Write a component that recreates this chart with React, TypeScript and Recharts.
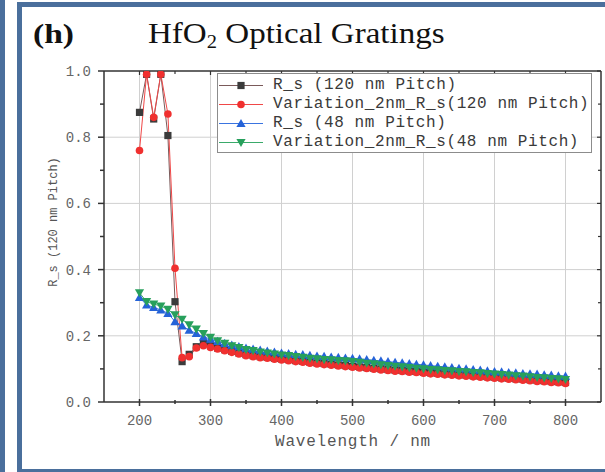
import React from 'react';
import { LineChart, Line, XAxis, YAxis, ReferenceLine, Legend } from 'recharts';

const wavelength = [200, 210, 220, 230, 240, 250, 260, 270, 280, 290, 300, 310, 320, 330, 340, 350, 360, 370, 380, 390, 400, 410, 420, 430, 440, 450, 460, 470, 480, 490, 500, 510, 520, 530, 540, 550, 560, 570, 580, 590, 600, 610, 620, 630, 640, 650, 660, 670, 680, 690, 700, 710, 720, 730, 740, 750, 760, 770, 780, 790, 800];

const rs120 = [0.875, 0.99, 0.855, 0.99, 0.805, 0.303, 0.122, 0.144, 0.167, 0.177, 0.170,
  0.163, 0.158, 0.153, 0.148, 0.143, 0.140, 0.137, 0.135, 0.132, 0.130,
  0.128, 0.125, 0.123, 0.120, 0.118, 0.116, 0.114, 0.112, 0.110, 0.108,
  0.106, 0.104, 0.102, 0.100, 0.098, 0.096, 0.095, 0.093, 0.092, 0.090,
  0.088, 0.087, 0.085, 0.084, 0.082, 0.081, 0.079, 0.078, 0.076, 0.075,
  0.073, 0.072, 0.070, 0.069, 0.067, 0.065, 0.064, 0.062, 0.061, 0.059];

const var120 = [0.760, 0.99, 0.860, 0.99, 0.870, 0.404, 0.134, 0.137, 0.163, 0.170, 0.165,
  0.160, 0.155, 0.150, 0.145, 0.140, 0.137, 0.134, 0.132, 0.129, 0.127,
  0.125, 0.122, 0.120, 0.117, 0.115, 0.113, 0.111, 0.109, 0.107, 0.105,
  0.103, 0.101, 0.099, 0.097, 0.095, 0.093, 0.092, 0.090, 0.089, 0.087,
  0.085, 0.084, 0.082, 0.081, 0.079, 0.078, 0.076, 0.075, 0.073, 0.072,
  0.070, 0.069, 0.067, 0.066, 0.064, 0.062, 0.061, 0.059, 0.058, 0.056];

const rs48 = [0.316, 0.293, 0.286, 0.278, 0.268, 0.243, 0.230, 0.217, 0.207, 0.197, 0.190,
  0.183, 0.177, 0.172, 0.167, 0.163, 0.160, 0.157, 0.154, 0.151, 0.148,
  0.146, 0.144, 0.143, 0.141, 0.139, 0.138, 0.136, 0.135, 0.133, 0.132,
  0.130, 0.128, 0.126, 0.124, 0.122, 0.120, 0.118, 0.116, 0.114, 0.112,
  0.110, 0.108, 0.106, 0.104, 0.102, 0.100, 0.098, 0.096, 0.094, 0.092,
  0.091, 0.089, 0.088, 0.086, 0.085, 0.084, 0.082, 0.081, 0.079, 0.078];

const var48 = [0.330, 0.303, 0.296, 0.290, 0.280, 0.263, 0.250, 0.233, 0.220, 0.207, 0.195,
  0.185, 0.177, 0.170, 0.164, 0.158, 0.155, 0.151, 0.148, 0.145, 0.142,
  0.140, 0.137, 0.135, 0.132, 0.130, 0.128, 0.127, 0.125, 0.124, 0.122,
  0.120, 0.117, 0.115, 0.112, 0.110, 0.108, 0.106, 0.104, 0.102, 0.100,
  0.098, 0.097, 0.095, 0.094, 0.092, 0.091, 0.089, 0.088, 0.086, 0.084,
  0.083, 0.081, 0.079, 0.078, 0.076, 0.074, 0.073, 0.071, 0.070, 0.068];

const xTicks = [200, 250, 300, 350, 400, 450, 500, 550, 600, 650, 700, 750, 800];
const xMajor = [200, 300, 400, 500, 600, 700, 800];
const yTicks = [0, 0.1, 0.2, 0.3, 0.4, 0.5, 0.6, 0.7, 0.8, 0.9, 1.0];
const yMajor = [0, 0.2, 0.4, 0.6, 0.8, 1.0];
const yGrid = [0.2, 0.4, 0.6, 0.8];

const seriesNames = ['R_s (120 nm Pitch)', 'Variation_2nm_R_s(120 nm Pitch)', 'R_s (48 nm Pitch)', 'Variation_2nm_R_s(48 nm Pitch)'];

const data = wavelength.map((wl, i) => ({ wl, rs120: rs120[i], var120: var120[i], rs48: rs48[i], var48: var48[i] }));

const series = [
  { key: 'rs120', name: seriesNames[0], color: '#3b3b3b', line: '#7a5a5a', shape: 'square' },
  { key: 'var120', name: seriesNames[1], color: '#f0302f', line: '#f04848', shape: 'circle' },
  { key: 'rs48', name: seriesNames[2], color: '#2563d8', line: '#3a74e0', shape: 'tri' },
  { key: 'var48', name: seriesNames[3], color: '#27a05c', line: '#3aaa6a', shape: 'tridown' },
];

const MONO = '"Liberation Mono", "DejaVu Sans Mono", monospace';
const SERIF = '"Liberation Serif", "DejaVu Serif", serif';
const AXIS = '#333';
const BLUE = '#4a6f9c';

function markerShape(shape: string, cx: number, cy: number, color: string, key?: any) {
  if (shape === 'square') return <rect key={key} x={cx - 3.6} y={cy - 3.6} width={7.2} height={7.2} fill={color} />;
  if (shape === 'circle') return <circle key={key} cx={cx} cy={cy} r={3.8} fill={color} />;
  if (shape === 'tri') return <polygon key={key} points={`${cx},${cy - 4.6} ${cx + 4.6},${cy + 3.6} ${cx - 4.6},${cy + 3.6}`} fill={color} />;
  return <polygon key={key} points={`${cx},${cy + 4.6} ${cx + 4.6},${cy - 3.6} ${cx - 4.6},${cy - 3.6}`} fill={color} />;
}

function makeDot(shape: string, color: string) {
  return (p: any) => {
    const k = `d${p.index}`;
    if (p.cx == null || p.cy == null) return <g key={k} />;
    return markerShape(shape, p.cx, p.cy, color, k);
  };
}

const isMajorX = (v: number) => xMajor.indexOf(v) >= 0;
const isMajorY = (v: number) => yMajor.some((m) => Math.abs(m - v) < 1e-6);

function BottomTick(props: any) {
  const { x, y, payload } = props;
  const v = payload.value;
  const major = isMajorX(v);
  return (
    <g>
      <line x1={x} x2={x} y1={y - (major ? 3 : 2)} y2={y + (major ? 4 : 2)} stroke={AXIS} strokeWidth={1.5} />
      {major && (
        <text x={x} y={y + 23} textAnchor="middle" fill="#666" fontFamily={MONO} fontSize={14}>{v}</text>
      )}
    </g>
  );
}

function TopTick(props: any) {
  const { x, y, payload } = props;
  const major = isMajorX(payload.value);
  return <line x1={x} x2={x} y1={y} y2={y + (major ? 4 : 3)} stroke={AXIS} strokeWidth={1.2} />;
}

function LeftTick(props: any) {
  const { x, y, payload } = props;
  const v = payload.value;
  const major = isMajorY(v);
  return (
    <g>
      <line x1={x - (major ? 6 : 4)} x2={x} y1={y} y2={y} stroke={AXIS} strokeWidth={1.5} />
      {major && (
        <text x={x - 13} y={y} dy="0.35em" textAnchor="end" fill="#666" fontFamily={MONO} fontSize={14}>{v.toFixed(1)}</text>
      )}
    </g>
  );
}

function RightTick(props: any) {
  const { x, y, payload } = props;
  const major = isMajorY(payload.value);
  return <line x1={x - (major ? 4 : 3)} x2={x} y1={y} y2={y} stroke={AXIS} strokeWidth={1.2} />;
}

function LegendBox() {
  return (
    <div style={{ width: 375, height: 80, boxSizing: 'border-box', border: '1px solid #8c8c8c', background: '#fff', paddingTop: 2 }}>
      {series.map((s) => (
        <div key={s.key} style={{ height: 19, display: 'flex', alignItems: 'center', whiteSpace: 'nowrap' }}>
          <svg width={55} height={19} style={{ flex: 'none' }}>
            <line x1={1} x2={45} y1={9.5} y2={9.5} stroke={s.line} strokeWidth={1} />
            {markerShape(s.shape, 23, 9.5, s.color)}
          </svg>
          <span style={{ fontFamily: MONO, fontSize: 16, letterSpacing: 0.6, color: '#3a3a3a', lineHeight: '19px' }}>{s.name}</span>
        </div>
      ))}
    </div>
  );
}

export default function App() {
  return (
    <div style={{ position: 'absolute', left: 0, top: 0, width: 605, height: 472, background: '#fff', overflow: 'hidden' }}>
      <div style={{ position: 'absolute', left: 0, top: 0, width: 5, height: 472, background: BLUE }} />
      <div style={{ position: 'absolute', left: 17, top: 2, width: 5, height: 470, background: BLUE }} />
      <div style={{ position: 'absolute', left: 17, top: 2, width: 588, height: 5, background: BLUE }} />
      <div style={{ position: 'absolute', left: 17, top: 469, width: 588, height: 3, background: BLUE }} />

      <div style={{ position: 'absolute', left: 0, top: 0 }}>
        <LineChart width={605} height={472} data={data} margin={{ top: 70, right: 3, bottom: 69, left: 103 }}>
          <XAxis xAxisId="b" dataKey="wl" type="number" domain={[150, 850]} ticks={xTicks} interval={0}
            allowDataOverflow height={1} tickSize={0} tickMargin={0} tickLine={false}
            axisLine={{ stroke: AXIS, strokeWidth: 1.5 }} tick={<BottomTick />} />
          <XAxis xAxisId="t" orientation="top" dataKey="wl" type="number" domain={[150, 850]} ticks={xTicks} interval={0}
            allowDataOverflow height={1} tickSize={0} tickMargin={0} tickLine={false}
            axisLine={{ stroke: AXIS, strokeWidth: 1.5 }} tick={<TopTick />} />
          <YAxis yAxisId="l" type="number" domain={[0, 1]} ticks={yTicks} interval={0} allowDataOverflow
            width={1} tickSize={0} tickMargin={0} tickLine={false}
            axisLine={{ stroke: AXIS, strokeWidth: 1.5 }} tick={<LeftTick />} />
          <YAxis yAxisId="r" orientation="right" type="number" domain={[0, 1]} ticks={yTicks} interval={0} allowDataOverflow
            width={1} tickSize={0} tickMargin={0} tickLine={false}
            axisLine={{ stroke: AXIS, strokeWidth: 1.5 }} tick={<RightTick />} />
          {xMajor.map((v) => (
            <ReferenceLine key={`gx${v}`} xAxisId="b" yAxisId="l" x={v} stroke="#d0d0d0" strokeWidth={1} />
          ))}
          {yGrid.map((v) => (
            <ReferenceLine key={`gy${v}`} xAxisId="b" yAxisId="l" y={v} stroke="#d0d0d0" strokeWidth={1} />
          ))}
          {series.map((s) => (
            <Line key={s.key} xAxisId="b" yAxisId="l" type="linear" dataKey={s.key} name={s.name}
              stroke={s.line} strokeWidth={1} dot={makeDot(s.shape, s.color)} activeDot={false}
              isAnimationActive={false} />
          ))}
          <Legend layout="vertical" align="center" verticalAlign="middle" content={() => <LegendBox />}
            wrapperStyle={{ position: 'absolute', left: 217, top: 73, width: 375, height: 80 }} />
        </LineChart>
      </div>

      <svg width={605} height={472} style={{ position: 'absolute', left: 0, top: 0, pointerEvents: 'none' }}>
        <text transform="translate(33,42.5) scale(1.2,1)" fontFamily={SERIF} fontWeight="bold" fontSize={28} fill="#111">(h)</text>
        <text transform="translate(148,42.5) scale(1.14,1)" fontFamily={SERIF} fontSize={29} fill="#111">
          HfO<tspan fontSize={18} dy={5}>2</tspan><tspan dy={-5}> Optical Gratings</tspan>
        </text>
        <text x={353} y={446} textAnchor="middle" fontFamily={MONO} fontSize={16} letterSpacing={0.8} fill="#555">Wavelength / nm</text>
        <text transform="translate(57,222) rotate(-90)" textAnchor="middle" fontFamily={MONO} fontSize={12} fill="#555">R_s (120 nm Pitch)</text>
      </svg>
    </div>
  );
}
